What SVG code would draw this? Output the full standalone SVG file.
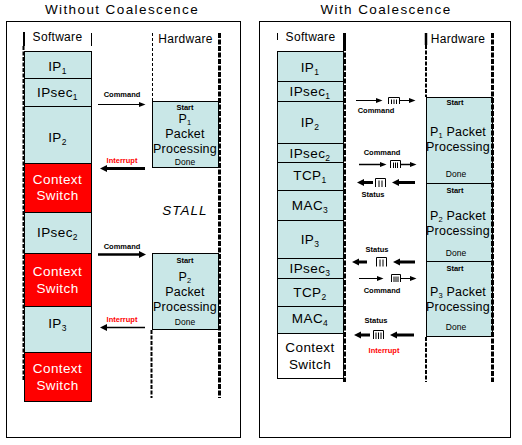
<svg xmlns="http://www.w3.org/2000/svg" width="522" height="445" viewBox="0 0 522 445">
<style>
text{font-family:"Liberation Sans",Arial,sans-serif;fill:#000;text-anchor:middle}
.title{font-size:13.5px;letter-spacing:1.4px}
.hdr{font-size:12px;letter-spacing:0.3px}
.cl{font-size:13.5px;letter-spacing:0.4px}
.wt{fill:#fff}
.hw{font-size:12.5px;letter-spacing:0.2px}
.sm{font-size:7.5px;font-weight:bold}
.dn{font-size:8.5px}
.red{fill:#f00}
.frame{fill:#fff;stroke:#000;stroke-width:1}
.c{fill:#c9e7e7;stroke:#000;stroke-width:1}
.r{fill:#f00;stroke:#000;stroke-width:1}
.w{fill:#fff;stroke:#000;stroke-width:1}
.thin{stroke:#000;stroke-width:1;stroke-dasharray:3 2;fill:none}
.thick{stroke:#000;stroke-width:3;stroke-dasharray:5 1.5;fill:none}
.med{stroke:#000;stroke-width:2;stroke-dasharray:4 1.5;fill:none}
.solid{stroke:#000;fill:none}
.q{stroke:#000;stroke-width:1;fill:none}
</style>
<defs>
<marker id="ahS" markerUnits="userSpaceOnUse" markerWidth="8" markerHeight="8" refX="0" refY="4" orient="auto" overflow="visible"><path d="M0,1.5 L6.5,4 L0,6.5 z" fill="#000"/></marker>
<marker id="ahL" markerUnits="userSpaceOnUse" markerWidth="8" markerHeight="8" refX="0" refY="4" orient="auto" overflow="visible"><path d="M0,0.5 L7,4 L0,7.5 z" fill="#000"/></marker>
</defs>
<rect width="522" height="445" fill="#fff"/>

<!-- Left panel -->
<g id="left-panel">
<text class="title" x="122" y="14">Without Coalescence</text>
<rect class="frame" x="6.5" y="21.5" width="234" height="416"/>
<text class="hdr" x="57.5" y="41">Software</text>
<text class="hdr" x="185.5" y="43">Hardware</text>
</g>

<g id="L-ip1"><rect class="c" x="24.5" y="51.5" width="67" height="27"/><text class="cl" x="57.5" y="71">IP<tspan font-size="8.5" dy="3">1</tspan></text></g>
<g id="L-ipsec1"><rect class="c" x="24.5" y="78.5" width="67" height="28"/><text class="cl" x="57.5" y="97">IPsec<tspan font-size="8.5" dy="3">1</tspan></text></g>
<g id="L-ip2"><rect class="c" x="24.5" y="106.5" width="67" height="57"/><text class="cl" x="57.5" y="142">IP<tspan font-size="8.5" dy="3">2</tspan></text></g>
<g id="L-cs1"><rect class="r" x="24.5" y="163.5" width="67" height="49"/><text class="cl wt" x="57.5" y="184">Context</text><text class="cl wt" x="57.5" y="200">Switch</text></g>
<g id="L-ipsec2"><rect class="c" x="24.5" y="212.5" width="67" height="41"/><text class="cl" x="57.5" y="237">IPsec<tspan font-size="8.5" dy="3">2</tspan></text></g>
<g id="L-cs2"><rect class="r" x="24.5" y="253.5" width="67" height="53"/><text class="cl wt" x="57.5" y="276">Context</text><text class="cl wt" x="57.5" y="293">Switch</text></g>
<g id="L-ip3"><rect class="c" x="24.5" y="306.5" width="67" height="46"/><text class="cl" x="57.5" y="328">IP<tspan font-size="8.5" dy="3">3</tspan></text></g>
<g id="L-cs3"><rect class="r" x="24.5" y="352.5" width="67" height="49"/><text class="cl wt" x="57.5" y="373">Context</text><text class="cl wt" x="57.5" y="390">Switch</text></g>

<g id="L-p1"><rect class="c" x="152.5" y="101.5" width="66" height="66"/>
<text class="sm" x="185" y="109.5">Start</text>
<text class="hw" x="185" y="122.5">P<tspan font-size="7.5" dy="2">1</tspan></text>
<text class="hw" x="185" y="137.5">Packet</text>
<text class="hw" x="185" y="152.5">Processing</text>
<text class="dn" x="185" y="164.5">Done</text></g>
<g id="L-stall"><text x="185" y="215" font-size="13.5" font-style="italic" letter-spacing="1">STALL</text></g>
<g id="L-p2"><rect class="c" x="152.5" y="253.5" width="66" height="76"/>
<text class="sm" x="185" y="263">Start</text>
<text class="hw" x="185" y="280.5">P<tspan font-size="7.5" dy="2">2</tspan></text>
<text class="hw" x="185" y="296">Packet</text>
<text class="hw" x="185" y="311">Processing</text>
<text class="dn" x="185" y="324.5">Done</text></g>

<g id="L-lanes">
<path class="solid" stroke-width="2" d="M24,32 V46"/>
<path class="med" d="M23.5,46 V381"/>
<path class="solid" stroke-width="1" d="M91.5,33 V46"/>
<path class="thin" d="M152.5,33 V101"/>
<path class="med" d="M151.5,330 V398"/>
<path class="thick" d="M219.5,33 V398"/>
</g>

<!-- Right panel -->
<g id="right-panel">
<text class="title" x="386" y="14">With Coalescence</text>
<rect class="frame" x="259.5" y="21.5" width="251" height="416"/>
<text class="hdr" x="310.5" y="41">Software</text>
<text class="hdr" x="458" y="43">Hardware</text>
</g>

<g id="R-ip1"><rect class="c" x="277.5" y="51.5" width="66" height="30"/><text class="cl" x="310" y="72">IP<tspan font-size="8.5" dy="3">1</tspan></text></g>
<g id="R-ipsec1"><rect class="c" x="277.5" y="81.5" width="66" height="20"/><text class="cl" x="310" y="96">IPsec<tspan font-size="8.5" dy="3">1</tspan></text></g>
<g id="R-ip2"><rect class="c" x="277.5" y="101.5" width="66" height="42"/><text class="cl" x="310" y="127">IP<tspan font-size="8.5" dy="3">2</tspan></text></g>
<g id="R-ipsec2"><rect class="c" x="277.5" y="143.5" width="66" height="19"/><text class="cl" x="310" y="157.5">IPsec<tspan font-size="8.5" dy="3">2</tspan></text></g>
<g id="R-tcp1"><rect class="c" x="277.5" y="162.5" width="66" height="28"/><text class="cl" x="310" y="180">TCP<tspan font-size="8.5" dy="3">1</tspan></text></g>
<g id="R-mac3"><rect class="c" x="277.5" y="190.5" width="66" height="30"/><text class="cl" x="310" y="210">MAC<tspan font-size="8.5" dy="3">3</tspan></text></g>
<g id="R-ip3"><rect class="c" x="277.5" y="220.5" width="66" height="38"/><text class="cl" x="310" y="244">IP<tspan font-size="8.5" dy="3">3</tspan></text></g>
<g id="R-ipsec3"><rect class="c" x="277.5" y="258.5" width="66" height="20"/><text class="cl" x="310" y="273">IPsec<tspan font-size="8.5" dy="3">3</tspan></text></g>
<g id="R-tcp2"><rect class="c" x="277.5" y="278.5" width="66" height="28"/><text class="cl" x="310" y="296.5">TCP<tspan font-size="8.5" dy="3">2</tspan></text></g>
<g id="R-mac4"><rect class="c" x="277.5" y="306.5" width="66" height="27"/><text class="cl" x="310" y="323">MAC<tspan font-size="8.5" dy="3">4</tspan></text></g>
<g id="R-cs"><rect class="w" x="277.5" y="333.5" width="66" height="45"/><text class="cl" x="310" y="352">Context</text><text class="cl" x="310" y="368.5">Switch</text></g>

<g id="R-p1"><rect class="c" x="426.5" y="97.5" width="66" height="86"/>
<text class="sm" x="455" y="104.5">Start</text>
<text class="hw" x="458" y="136">P<tspan font-size="7.5" dy="2">1</tspan><tspan dy="-2"> Packet</tspan></text>
<text class="hw" x="458" y="151">Processing</text>
<text class="dn" x="456" y="177">Done</text></g>
<g id="R-p2"><rect class="c" x="426.5" y="183.5" width="66" height="78"/>
<text class="sm" x="455" y="192.5">Start</text>
<text class="hw" x="458" y="219.5">P<tspan font-size="7.5" dy="2">2</tspan><tspan dy="-2"> Packet</tspan></text>
<text class="hw" x="458" y="234.5">Processing</text>
<text class="dn" x="456" y="256">Done</text></g>
<g id="R-p3"><rect class="c" x="426.5" y="261.5" width="66" height="75"/>
<text class="sm" x="455" y="271">Start</text>
<text class="hw" x="458" y="295.5">P<tspan font-size="7.5" dy="2">3</tspan><tspan dy="-2"> Packet</tspan></text>
<text class="hw" x="458" y="310.5">Processing</text>
<text class="dn" x="456" y="329.5">Done</text></g>

<g id="R-lanes">
<path class="solid" stroke-width="1" d="M277.5,33 V40"/>
<path class="solid" stroke-width="3" d="M344.5,33 V46"/>
<path class="thick" d="M344.5,46 V382"/>
<path class="solid" stroke-width="2.5" d="M426,33 V45"/>
<path class="med" d="M426,45 V97"/>
<path class="med" d="M426,337 V382"/>
<path class="thick" d="M492.5,33 V382"/>
</g>

<g id="connectors">
<!-- left panel -->
<line x1="98" y1="104.5" x2="139" y2="104.5" stroke="#000" stroke-width="1" marker-end="url(#ahS)"/>
<text class="sm" x="122" y="97">Command</text>
<line x1="145" y1="168.5" x2="107" y2="168.5" stroke="#000" stroke-width="3" marker-end="url(#ahL)"/>
<text class="sm red" x="122" y="163">Interrupt</text>
<line x1="98" y1="254.5" x2="139" y2="254.5" stroke="#000" stroke-width="2.5" marker-end="url(#ahL)"/>
<text class="sm" x="122" y="249">Command</text>
<line x1="145" y1="327.5" x2="107" y2="327.5" stroke="#000" stroke-width="1.5" marker-end="url(#ahL)"/>
<text class="sm red" x="122" y="322">Interrupt</text>

<!-- right panel -->
<line x1="356" y1="100.5" x2="376" y2="100.5" stroke="#000" stroke-width="1" marker-end="url(#ahS)"/>
<path class="q" d="M388.5,104 V97.5 H399.5 V104 M391.5,99.5 V104 M394,99.5 V104 M396.5,99.5 V104"/>
<line x1="400" y1="100.5" x2="409" y2="100.5" stroke="#000" stroke-width="1" marker-end="url(#ahS)"/>
<text class="sm" x="376" y="113">Command</text>

<text class="sm" x="382" y="155">Command</text>
<line x1="359" y1="164.5" x2="380" y2="164.5" stroke="#000" stroke-width="1.5" marker-end="url(#ahS)"/>
<path class="q" d="M390.5,168 V160.5 H400.5 V168 M393.5,162.5 V168 M395.5,162.5 V168 M397.5,162.5 V168"/>
<line x1="401" y1="164.5" x2="410" y2="164.5" stroke="#000" stroke-width="1.5" marker-end="url(#ahS)"/>

<line x1="373" y1="182.5" x2="364" y2="182.5" stroke="#000" stroke-width="3" marker-end="url(#ahL)"/>
<path class="q" d="M375.5,187 V178.5 H385.5 V187 M379,180.5 V187 M382,180.5 V187"/>
<line x1="415" y1="182.5" x2="399" y2="182.5" stroke="#000" stroke-width="3" marker-end="url(#ahL)"/>
<text class="sm" x="373" y="197">Status</text>

<text class="sm" x="377" y="252">Status</text>
<line x1="367" y1="262" x2="359" y2="262" stroke="#000" stroke-width="3" marker-end="url(#ahL)"/>
<path class="q" d="M376.5,266.5 V257.5 H386.5 V266.5 M380,259.5 V266.5 M383,259.5 V266.5"/>
<line x1="415" y1="262" x2="400" y2="262" stroke="#000" stroke-width="3" marker-end="url(#ahL)"/>

<line x1="359" y1="278.5" x2="377" y2="278.5" stroke="#000" stroke-width="1" marker-end="url(#ahS)"/>
<path class="q" d="M391.5,282 V274.5 H400.5 V282 M394,276.5 V282 M396,276.5 V282 M398,276.5 V282"/>
<line x1="401" y1="278.5" x2="410" y2="278.5" stroke="#000" stroke-width="1" marker-end="url(#ahS)"/>
<text class="sm" x="382" y="293">Command</text>

<text class="sm" x="376" y="323">Status</text>
<line x1="370" y1="335" x2="361" y2="335" stroke="#000" stroke-width="3" marker-end="url(#ahL)"/>
<path class="q" d="M373.5,339 V330.5 H383.5 V339 M376,332.5 V339 M378.5,332.5 V339 M381,332.5 V339"/>
<line x1="414" y1="335" x2="397" y2="335" stroke="#000" stroke-width="3" marker-end="url(#ahL)"/>
<text class="sm red" x="384" y="353">Interrupt</text>
</g>
</svg>
